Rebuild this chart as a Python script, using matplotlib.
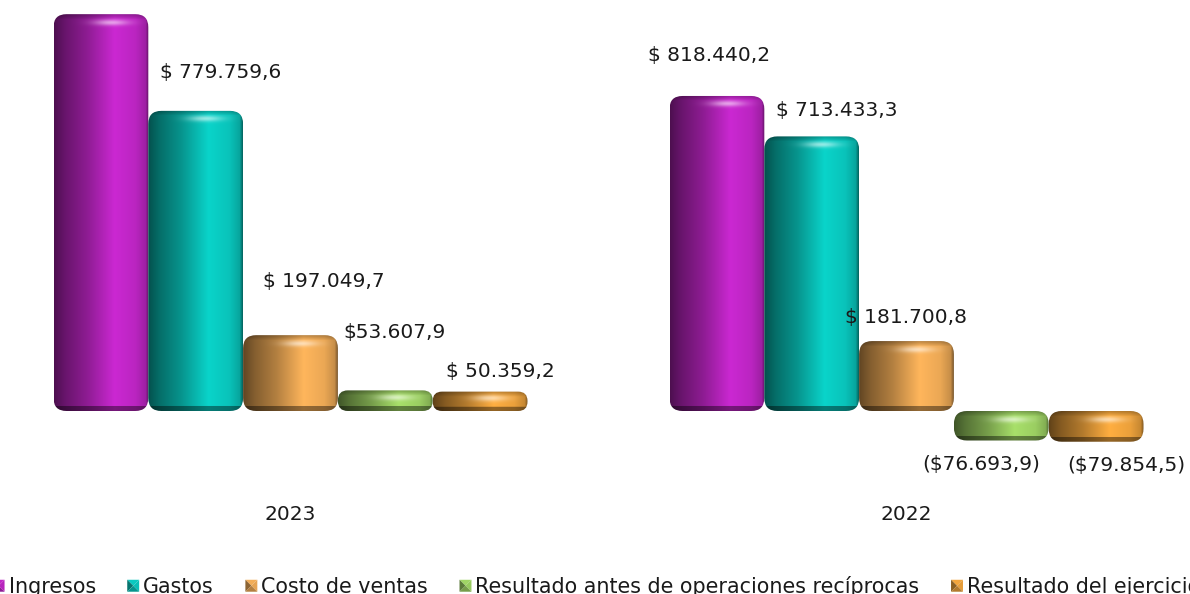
# -*- coding: utf-8 -*-
import numpy as np
import matplotlib
matplotlib.use("Agg")
import matplotlib.pyplot as plt
from matplotlib.patches import FancyBboxPatch, Polygon, Patch
from matplotlib.legend_handler import HandlerBase

# datos
years = ["2023", "2022"]
series = ["Ingresos", "Gastos", "Costo de ventas",
          "Resultado antes de operaciones recíprocas", "Resultado del ejercicio"]
values_2023 = [1031000, 779759.6, 197049.7, 53607.9, 50359.2]
values_2022 = [818440.2, 713433.3, 181700.8, -76693.9, -79854.5]
labels_2023 = ["", "$ 779.759,6", "$ 197.049,7", "$53.607,9", "$ 50.359,2"]
labels_2022 = ["$ 818.440,2", "$ 713.433,3", "$ 181.700,8", "($76.693,9)", "($79.854,5)"]

# estilo
colors = ["#CB28D2", "#0AD4CA", "#FFB65C", "#A8E06A", "#FFAE40"]
# desplazamiento de las etiquetas en pixeles respecto a la punta de la barra
offsets_2023 = [(0, 0), (25, 38), (33, 54), (9, 58), (20, 20)]
offsets_2022 = [(-8, 40), (-25 + 95 - 45, 26), (-19 + 95 - 45 - 45 + 45 - 50 + 19 - 0, 24), (-20, -24), (30, -24)]

W, H = 1190, 594
PER_PX = 2598.0  # valor por pixel
X0, GROUP = 290.5, 616.0  # centro del primer grupo y distancia entre grupos
BAR_PX = 94.8

fig = plt.figure(figsize=(W / 100, H / 100), dpi=100)
ax = fig.add_axes([0, 0, 1, 1])
ax.set_xlim(-X0 / GROUP, (W - X0) / GROUP)
ax.set_ylim(-(H - 411) * PER_PX, 411 * PER_PX)
ax.axis("off")


def shade(color, h_px):
    # imagen de la barra: luz horizontal, bisel arriba, banda oscura abajo
    base = np.array(matplotlib.colors.to_rgb(color))
    w_px = int(BAR_PX)
    rows = max(int(round(h_px)), 2)
    xs = np.linspace(0, 1, w_px)
    prof = np.interp(xs, [0, .03, .12, .35, .64, .86, .97, 1],
                     [.38, .42, .52, .70, 1.0, .92, .78, .5])
    ys = np.arange(rows)
    top = np.clip(ys / 5.0, 0, 1) * .25 + .75
    band = max(3.0, min(6.0, rows * .25))
    bottom = np.where(ys > rows - band, .58, 1.0)
    img = np.outer(top * bottom, prof)[:, :, None] * base
    # brillo arriba
    X, Y = np.meshgrid(np.arange(w_px), ys)
    cy = min(8.0, rows * .33)
    glow = .55 * np.exp(-((X - w_px * .6) / 17.0) ** 2 - ((Y - cy) / 3.0) ** 2)
    img = img + (1 - img) * glow[:, :, None]
    return np.clip(img, 0, 1)


def draw_bar(xc, value, color):
    w = BAR_PX / GROUP
    h_px = abs(value) / PER_PX
    y0, y1 = min(0, value), max(0, value)
    im = ax.imshow(shade(color, h_px), extent=[xc - w / 2, xc + w / 2, y0, y1],
                   origin="upper", aspect="auto", interpolation="bilinear", zorder=2)
    r_px = min(13.0, h_px * .48)
    clip = FancyBboxPatch((xc - w / 2, y0), w, y1 - y0,
                          boxstyle="round,pad=0,rounding_size=%f" % (r_px / GROUP),
                          mutation_aspect=PER_PX * GROUP,
                          transform=ax.transData, fc="none", ec="none")
    ax.add_patch(clip)
    im.set_clip_path(clip)


groups = [(values_2023, labels_2023, offsets_2023), (values_2022, labels_2022, offsets_2022)]
for g, (vals, labs, offs) in enumerate(groups):
    for i in range(len(vals)):
        xc = g + (i - 2) * BAR_PX / GROUP
        draw_bar(xc, vals[i], colors[i])
        if labs[i]:
            ax.annotate(labs[i], xy=(xc, vals[i]), xytext=(offs[i][0] * .72, offs[i][1] * .72),
                        textcoords="offset points", ha="center", va="center",
                        fontsize=14.5, color="#1a1a1a")
    ax.text(g, -103 * PER_PX, years[g], ha="center", va="center", fontsize=14.5, color="#1a1a1a")

ax.set_xlim(-X0 / GROUP, (W - X0) / GROUP)
ax.set_ylim(-(H - 411) * PER_PX, 411 * PER_PX)


class PyramidHandler(HandlerBase):
    # cuadrito con cuatro caras, como el marcador de la leyenda original
    def create_artists(self, legend, orig, xd, yd, width, height, fontsize, trans):
        c = np.array(matplotlib.colors.to_rgb(orig.get_facecolor()))
        s = 8.6
        x0 = (width - s) / 2 - xd
        y0 = (height - s) / 2 - yd
        m = (x0 + s / 2, y0 + s / 2)
        a, b, d, e = (x0, y0), (x0 + s, y0), (x0 + s, y0 + s), (x0, y0 + s)
        faces = [([e, d, m], .95), ([a, e, m], .55), ([d, b, m], .9), ([a, b, m], .7)]
        return [Polygon(list(p), closed=True, fc=c * f, ec="none", transform=trans)
                for p, f in faces]


handles = [Patch(facecolor=c) for c in colors]
ax.legend(handles, series, ncol=5, loc="lower center", bbox_to_anchor=(0.5005, -0.012),
          frameon=False, fontsize=14.9, handler_map={Patch: PyramidHandler()},
          handlelength=0.72, handleheight=0.7, handletextpad=0.12, columnspacing=1.45,
          labelcolor="#1a1a1a", borderpad=0.2, borderaxespad=0)

fig.savefig("out.png", dpi=100, facecolor="white")
